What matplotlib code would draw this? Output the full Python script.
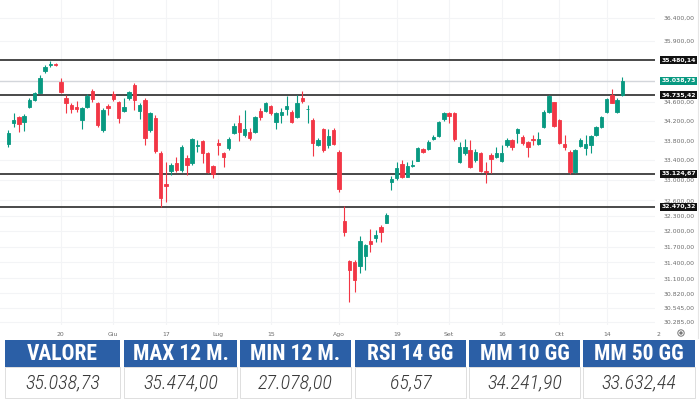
import matplotlib
matplotlib.use("Agg")
import matplotlib.pyplot as plt
import numpy as np
import pandas as pd
from matplotlib.patches import Rectangle
from matplotlib.ticker import FixedLocator, NullLocator

# ---------------- data ----------------
dates = [d for d in pd.bdate_range("2024-05-06", "2024-10-17") if d != pd.Timestamp("2024-08-15")]

opens = [33722, 34166, 34278, 34187, 34486, 34638, 34792, 35258, 35380, 35390,
         35024, 34680, 34534, 34500, 34222, 34486, 34834, 34582, 34009, 34520,
         34757, 34603, 34410, 34673, 34954, 34416, 34638, 34015, 34257, 33550,
         32920, 33188, 33337, 33202, 33450, 33337, 33690, 33790, 33540, 33283,
         33745, 33540, 33650, 33947, 34160, 33912, 33980, 33980, 34416, 34416,
         34513, 34187, 34325, 34457, 34395, 34278, 34673, 34445, 34222, 33708,
         34036, 33714, 34015, 33570, 32193, 31423, 31410, 31328, 31518, 31810,
         31870, 32070, 32160, 32968, 33035, 33323, 33068, 33290, 33390, 33620,
         33620, 33824, 33898, 34236, 34373, 34360, 33370, 33540, 33606, 33404,
         33540, 33180, 33505, 33471, 33390, 33708, 33810, 33960, 33878, 33776,
         33830, 33730, 34070, 34380, 34590, 34222, 33730, 33570, 33168, 33690,
         33650, 33708, 33912, 34070, 34395, 34743, 34395, 34743]
highs = [34015, 34360, 34305, 34340, 34673, 34813, 35166, 35380, 35474, 35430,
         35095, 34743, 34570, 34623, 34500, 34757, 34862, 34603, 34465, 34550,
         34834, 34623, 34673, 34827, 34990, 34570, 34673, 34395, 34325, 33592,
         33370, 33350, 33470, 33708, 33505, 33845, 33810, 33810, 33570, 33300,
         33824, 33570, 33865, 34153, 34325, 34430, 34050, 34305, 34465, 34603,
         34534, 34395, 34465, 34728, 34430, 34743, 34827, 34534, 34257, 33845,
         34050, 34036, 34050, 33606, 32486, 31442, 31442, 31900, 31760, 32050,
         32018, 32115, 32343, 33075, 33370, 33404, 33370, 33404, 33674, 33640,
         33810, 33912, 34200, 34395, 34395, 34395, 33776, 33824, 33810, 33620,
         33570, 33370, 33540, 33674, 33708, 33845, 33830, 34050, 33912, 33796,
         33912, 33980, 34430, 34743, 34603, 34236, 33912, 33606, 33620, 33845,
         33912, 33912, 34097, 34305, 34673, 34862, 34673, 35130]
lows = [33675, 34083, 33980, 33994, 34465, 34623, 34779, 35209, 35340, 35350,
        34779, 34360, 34360, 34395, 34036, 34465, 34603, 34083, 33980, 34325,
        34617, 34153, 34395, 34638, 34430, 34236, 33708, 33980, 33550, 32470,
        32570, 33102, 33170, 33170, 33102, 33303, 33570, 33337, 33135, 33035,
        33505, 33256, 33606, 33925, 33790, 33878, 33810, 33947, 34222, 34395,
        34325, 34029, 34166, 34325, 34166, 34257, 34582, 34153, 33485, 33690,
        33570, 33650, 33708, 32770, 31900, 30650, 30845, 31200, 31252, 31600,
        31790, 31790, 32150, 32800, 33002, 33035, 33055, 33256, 33383, 33540,
        33606, 33810, 33878, 34208, 34153, 33796, 33350, 33505, 33236, 33370,
        33168, 32936, 33135, 33438, 33370, 33660, 33606, 33740, 33708, 33458,
        33708, 33708, 34050, 34360, 34070, 33730, 33606, 33124, 33150, 33674,
        33505, 33540, 33890, 34050, 34375, 34570, 34375, 34722]
closes = [33962, 34222, 34133, 34311, 34638, 34779, 35095, 35337, 35400, 35375,
          34800, 34582, 34445, 34450, 34465, 34728, 34659, 34118, 34430, 34480,
          34652, 34257, 34500, 34800, 34638, 34534, 33845, 34360, 33592, 32640,
          32880, 33303, 33202, 33674, 33303, 33824, 33700, 33550, 33170, 33120,
          33700, 33458, 33824, 34097, 33980, 34029, 33845, 34290, 34290, 34570,
          34360, 34360, 34380, 34513, 34187, 34582, 34617, 34460, 33745, 33810,
          33606, 33890, 33730, 32816, 31986, 31265, 31075, 31810, 31729, 31760,
          31920, 31985, 32310, 33020, 33236, 33055, 33283, 33310, 33640, 33566,
          33776, 33865, 34187, 34360, 34305, 33824, 33660, 33674, 33256, 33570,
          33188, 33160, 33418, 33550, 33550, 33810, 33674, 34029, 33745, 33660,
          33810, 33824, 34395, 34722, 34097, 33760, 33660, 33168, 33606, 33810,
          33735, 33890, 34070, 34290, 34652, 34582, 34638, 35038.73]

level_values = [35480.14, 34735.42, 33124.67, 32470.32]
level_labels = ["35.480,14", "34.735,42", "33.124,67", "32.470,32"]
last_value = 35038.73
last_label = "35.038,73"

ytick_values = [36400, 35900, 34600, 34200, 33800, 33400, 33000, 32600, 32300,
                32000, 31700, 31400, 31100, 30820, 30545, 30285]

xtick_dates = ["2024-05-20", "2024-06-03", "2024-06-17", "2024-07-01", "2024-07-15",
               "2024-08-01", "2024-08-19", "2024-09-02", "2024-09-16", "2024-10-01",
               "2024-10-14"]
xtick_labels = ["20", "Giu", "17", "Lug", "15", "Ago", "19", "Set", "16", "Ott", "14"]
extra_xlabel = "2"

table_headers = ["VALORE", "MAX 12 M.", "MIN 12 M.", "RSI 14 GG", "MM 10 GG", "MM 50 GG"]
table_values = ["35.038,73", "35.474,00", "27.078,00", "65,57", "34.241,90", "33.632,44"]

# ---------------- styling ----------------
GREEN = "#089981"
RED = "#f23645"
BLUE = "#2b5fa6"

def it_fmt(v):
    s = f"{v:,.2f}"
    return s.replace(",", "X").replace(".", ",").replace("X", ".")

fig = plt.figure(figsize=(7, 4), dpi=100)
fig.patch.set_facecolor("white")

W, H = 700, 400
ax = fig.add_axes([0, (H - 325) / H, 655 / W, 325 / H])
ax.set_yscale("log")
ax.set_ylim(30235, 36796)
ax.set_xlim(-1.58, 123.2)

x = np.arange(len(opens))
o = np.array(opens, float); h = np.array(highs, float)
l = np.array(lows, float); c = np.array(closes, float)
cols = np.where(c >= o, GREEN, RED)

# grid
pos_map = {d.strftime("%Y-%m-%d"): i for i, d in enumerate(dates)}
xt = [pos_map[d] for d in xtick_dates]
for xv in xt:
    ax.axvline(xv, color="#f3f4f6", lw=0.8, zorder=0)
for yv in ytick_values:
    ax.axhline(yv, color="#f3f4f6", lw=0.8, zorder=0)

# levels
ax.axhline(last_value, color="#d3d6db", lw=1.0, zorder=1)
for lv in level_values:
    ax.axhline(lv, color="#3a3a3a", lw=1.3, zorder=1)

# candles
ax.vlines(x, l, h, colors=cols, lw=0.8, zorder=2)
bottoms = np.minimum(o, c)
heights = np.abs(c - o)
ax.bar(x, heights, bottom=bottoms, width=0.66, color=cols, edgecolor=cols,
       linewidth=0.6, zorder=3)

for s in ax.spines.values():
    s.set_visible(False)

ax.yaxis.tick_right()
ax.yaxis.set_major_locator(FixedLocator(ytick_values))
ax.yaxis.set_minor_locator(NullLocator())
ax.set_yticklabels([it_fmt(v) for v in ytick_values])
ax.tick_params(axis="y", length=0, pad=6, labelsize=4.4, labelcolor="#6b6b6b")
ax.set_xticks(xt)
ax.set_xticklabels(xtick_labels)
ax.tick_params(axis="x", length=0, pad=5, labelsize=4.4, labelcolor="#6b6b6b")
ax.annotate(extra_xlabel, xy=(123.8, 0), xycoords=("data", "axes fraction"),
            xytext=(0, -5), textcoords="offset points", fontsize=4.4,
            color="#6b6b6b", ha="center", va="top", annotation_clip=False)

# label boxes
for lv, lab in zip(level_values, level_labels):
    ax.annotate(lab, xy=(1.0, lv), xycoords=("axes fraction", "data"),
                xytext=(4.5, 0), textcoords="offset points", ha="left", va="center",
                fontsize=4.4, color="white", fontweight="bold",
                bbox=dict(boxstyle="square,pad=0.25", fc="#111111", ec="none"))
ax.annotate(last_label, xy=(1.0, last_value), xycoords=("axes fraction", "data"),
            xytext=(4.5, 0), textcoords="offset points", ha="left", va="center",
            fontsize=4.4, color="white", fontweight="bold",
            bbox=dict(boxstyle="square,pad=0.25", fc=GREEN, ec="none"))

# overlay axes in pixel coords for table
ov = fig.add_axes([0, 0, 1, 1])
ov.set_xlim(0, W); ov.set_ylim(H, 0)
ov.axis("off"); ov.patch.set_alpha(0)

# small settings icon
ov.add_patch(plt.Circle((681, 333), 3.2, fill=False, ec="#777777", lw=0.7))
ov.add_patch(plt.Circle((681, 333), 1.0, fill=True, color="#777777"))
# right border
ov.plot([697.5, 697.5], [0, 338], color="#e6e6e6", lw=0.8)

cell_x = [(5, 120), (124, 237), (240, 351), (355, 466), (469, 580), (583, 695)]
head_y0, head_y1 = 340, 367
val_y0, val_y1 = 367, 398
hfam = ["Roboto Condensed", "Liberation Sans Narrow", "DejaVu Sans"]
for (x0, x1), hd, vl in zip(cell_x, table_headers, table_values):
    ov.add_patch(Rectangle((x0, head_y0), x1 - x0, head_y1 - head_y0, fc=BLUE, ec="none"))
    ov.add_patch(Rectangle((x0, val_y0), x1 - x0, val_y1 - val_y0, fc="white",
                           ec="#d9d9d9", lw=0.6))
    ov.text((x0 + x1) / 2, (head_y0 + head_y1) / 2 + 0.5, hd, ha="center", va="center",
            color="white", fontsize=15.5, fontweight="bold", family=hfam)
    ov.text((x0 + x1) / 2, (val_y0 + val_y1) / 2 + 0.5, vl, ha="center", va="center",
            color="#3a3a3a", fontsize=14.5, fontstyle="italic", fontweight="light",
            family=hfam)

fig.savefig("out.png", dpi=100, facecolor="white")
